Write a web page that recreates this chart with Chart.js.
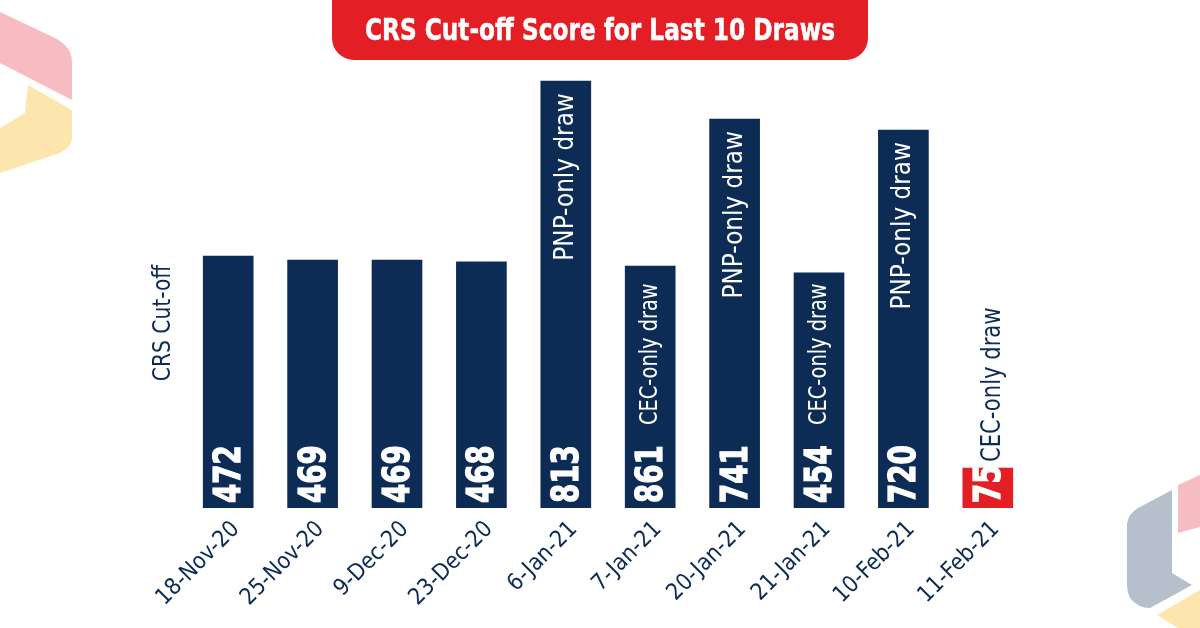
<!DOCTYPE html>
<html>
<head>
<meta charset="utf-8">
<script src="https://cdn.jsdelivr.net/npm/chart.js@4.4.1/dist/chart.umd.min.js"></script>
<style>
  html, body { margin: 0; padding: 0; background: #fff; }
  #wrap { position: relative; width: 1200px; height: 628px; overflow: hidden; }
  #deco, #chart { position: absolute; left: 0; top: 0; }
  #banner {
    position: absolute; left: 332px; top: -10px; width: 536px; height: 70px;
    background: #e31e25; border-radius: 0 0 22px 22px;
  }
  #bannerText {
    position: absolute; left: 50%; top: 10px; line-height: 58px; white-space: nowrap;
    color: #fff;
    font-family: "DejaVu Sans Condensed", sans-serif;
    font-weight: bold; font-size: 31px;
    -webkit-text-stroke: 0.5px #fff;
  }
</style>
</head>
<body>
<div id="wrap">
  <svg id="deco" width="1200" height="628">
    <path d="M0,12 L55,38 Q72,47 72,62 L72,100 L0,63 Z" fill="#f6bcc1"/>
    <path d="M28,85 L72,110 L72,140 Q70,148 60,153 L0,173 L0,128 L25,113 Z" fill="#fde6ad"/>
    <path d="M1172,490 L1172,573 L1192,585 L1150,608 Q1138,608 1130,598 Q1127,592 1127,585 L1127,524 Q1128,514 1138,508 Z" fill="#b6c0cd"/>
    <path d="M1178,485 L1200,475 L1200,527 L1178,533 Z" fill="#f6bcc1"/>
    <path d="M1157,615 L1200,590 L1200,628 L1178,628 Z" fill="#fde6ad"/>
  </svg>
  <canvas id="chart" width="1200" height="628"></canvas>
  <div id="banner"><span id="bannerText">CRS Cut-off Score for Last 10 Draws</span></div>
</div>
<script>
const FONT = '"DejaVu Sans Condensed", sans-serif';
const NAVY = '#0c2b55';
const RED = '#e31e25';

const drawDates = ['18-Nov-20', '25-Nov-20', '9-Dec-20', '23-Dec-20', '6-Jan-21',
  '7-Jan-21', '20-Jan-21', '21-Jan-21', '10-Feb-21', '11-Feb-21'];
// bar heights as drawn in the picture
const cutoffs = [480, 472, 472, 469, 813, 461, 741, 448, 720, 76];
// numbers printed on the bars
const scoreLabels = ['472', '469', '469', '468', '813', '861', '741', '454', '720', '75'];
const drawTypes = ['', '', '', '', 'PNP-only draw', 'CEC-only draw', 'PNP-only draw',
  'CEC-only draw', 'PNP-only draw', 'CEC-only draw'];
const barColors = [NAVY, NAVY, NAVY, NAVY, NAVY, NAVY, NAVY, NAVY, NAVY, RED];

// squeeze the banner title to the condensed width of the original
const bt = document.getElementById('bannerText');
bt.style.transform = 'translateX(-50%) scaleX(' + (470 / bt.offsetWidth).toFixed(3) + ')';

// rotated text reading upwards; x, y = start of the baseline, squeeze = horizontal condensing
function upText(ctx, text, x, y, font, color, align, squeeze, heavy) {
  ctx.save();
  ctx.translate(x, y);
  ctx.rotate(-Math.PI / 2);
  ctx.scale(squeeze, 1);
  ctx.font = font;
  ctx.fillStyle = color;
  ctx.textAlign = align;
  ctx.textBaseline = 'alphabetic';
  ctx.fillText(text, 0, 0);
  if (heavy) {
    ctx.strokeStyle = color;
    ctx.lineWidth = heavy;
    ctx.strokeText(text, 0, 0);
  }
  ctx.restore();
}

const barText = {
  id: 'barText',
  afterDatasetsDraw(chart) {
    const ctx = chart.ctx;
    const meta = chart.getDatasetMeta(0);
    meta.data.forEach((bar, i) => {
      upText(ctx, scoreLabels[i], bar.x + 12, bar.base - 5, 'bold 37px ' + FONT, '#fff', 'left', 0.83, 1.2);

      const note = drawTypes[i];
      if (!note) return;
      if (note.startsWith('PNP')) {
        upText(ctx, note, bar.x + 7, bar.y + 12, '27px ' + FONT, '#fff', 'right', 0.955);
      } else if (bar.base - bar.y > 150) {
        upText(ctx, note, bar.x + 7, bar.base - 83, '25px ' + FONT, '#fff', 'left', 0.86);
      } else {
        upText(ctx, note, bar.x + 12, bar.y - 6, '27px ' + FONT, NAVY, 'left', 0.87);
      }
    });

    // y axis caption
    upText(ctx, 'CRS Cut-off', 170, 323, '25px ' + FONT, NAVY, 'center', 0.9);
  }
};

new Chart(document.getElementById('chart'), {
  type: 'bar',
  data: {
    labels: drawDates,
    datasets: [{
      data: cutoffs,
      backgroundColor: barColors,
      barThickness: 50
    }]
  },
  options: {
    responsive: false,
    animation: false,
    layout: { padding: { left: 186, right: 170, top: 35.5, bottom: 0 } },
    plugins: { legend: { display: false }, tooltip: { enabled: false }, title: { display: false } },
    scales: {
      x: {
        grid: { display: false },
        border: { display: false },
        ticks: {
          color: NAVY,
          font: { family: FONT, size: 23 },
          minRotation: 45,
          maxRotation: 45,
          padding: 0,
          labelOffset: 8
        },
        afterFit(scale) { scale.height = 120; }
      },
      y: {
        display: false,
        min: 0,
        max: 900
      }
    }
  },
  plugins: [barText]
});
</script>
</body>
</html>
